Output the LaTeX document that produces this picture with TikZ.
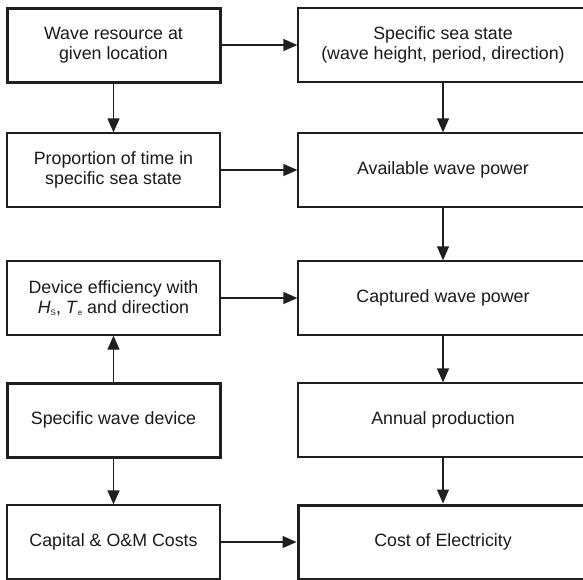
\documentclass[tikz,border=0pt]{standalone}
\usepackage{fontspec}
\setmainfont{Liberation Sans}
\usepackage{tikz}
\usetikzlibrary{arrows.meta}
\newcommand{\lowidx}[1]{\raisebox{-0.3ex}{\fontsize{8}{9}\selectfont #1}}

\begin{document}
\begin{tikzpicture}[x=1pt, y=-1pt, line width=1.3pt,
    box/.style={draw=black!88, text=black!90, minimum height=74pt, inner sep=0pt, align=center,
        font=\fontsize{17.8}{20}\selectfont},
    lbox/.style={box, minimum width=213pt},
    rbox/.style={box, minimum width=290pt},
    heavy/.style={line width=3pt},
    flow/.style={draw=black!88, -{Triangle[length=14pt, width=12pt]}}]
    \useasboundingbox (0,0) rectangle (583,579);
    \clip (0,0) rectangle (583,579);

    \node[lbox, heavy] (resource) at (113.5,45) {Wave resource at\\given location};
    \node[lbox] (proportion) at (113.5,170) {Proportion of time in\\specific sea state};
    \node[lbox] (efficiency) at (113.5,298) {Device efficiency with\\\textit{H}\lowidx{S}, \textit{T}\lowidx{e} and direction};
    \node[lbox, heavy] (device) at (113.5,420) {Specific wave device};
    \node[lbox] (costs) at (113.5,542) {Capital \& O\&M Costs};

    \node[rbox] (seastate) at (443,45) {Specific sea state\\(wave height, period, direction)};
    \node[rbox] (available) at (443,170) {Available wave power};
    \node[rbox] (captured) at (443,298) {Captured wave power};
    \node[rbox] (annual) at (443,420) {Annual production};
    \node[rbox, heavy] (coe) at (443,542) {Cost of Electricity};

    \draw[flow] (resource) -- (proportion);
    \draw[flow] (device) -- (efficiency);
    \draw[flow] (device) -- (costs);
    \draw[flow] (resource) -- (seastate);
    \draw[flow] (proportion) -- (available);
    \draw[flow] (efficiency) -- (captured);
    \draw[flow] (costs) -- (coe);
    \draw[flow] (seastate) -- (available);
    \draw[flow] (available) -- (captured);
    \draw[flow] (captured) -- (annual);
    \draw[flow] (annual) -- (coe);
\end{tikzpicture}
\end{document}
